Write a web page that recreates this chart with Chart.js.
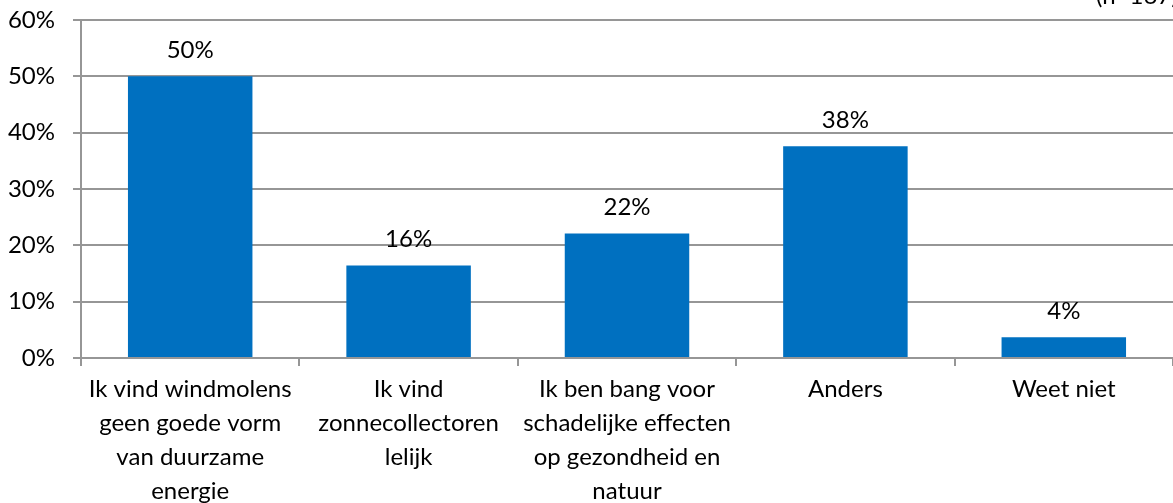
<!DOCTYPE html>
<html>
<head>
<meta charset="utf-8">
<script src="https://cdn.jsdelivr.net/npm/chart.js@4"></script>
<style>
    html, body { margin: 0; padding: 0; background: #fff; }
    #wrap { width: 1173px; height: 503px; position: relative; }
</style>
</head>
<body>
<div id="wrap"><canvas id="chart"></canvas></div>
<script>
// Categories (multi-line labels as in the original)
var categories = [
    ['Ik vind windmolens', 'geen goede vorm', 'van duurzame', 'energie'],
    ['Ik vind', 'zonnecollectoren', 'lelijk'],
    ['Ik ben bang voor', 'schadelijke effecten', 'op gezondheid en', 'natuur'],
    ['Anders'],
    ['Weet niet']
];
// Percentages
var values = [50, 16.4, 22.1, 37.6, 3.7];
var valueLabels = ['50%', '16%', '22%', '38%', '4%'];
var yTicks = [0, 10, 20, 30, 40, 50, 60];
var noteText = '(n=167)';

var fontFamily = 'Lato, "Open Sans", sans-serif';
var gridColor = '#969696';

// Draws the percentage above each bar and the cut-off note top right
var barLabels = {
    id: 'barLabels',
    afterDatasetsDraw: function(chart) {
        var ctx = chart.ctx;
        var meta = chart.getDatasetMeta(0);
        ctx.save();
        ctx.font = '24px ' + fontFamily;
        ctx.fillStyle = '#000';
        ctx.textAlign = 'center';
        ctx.textBaseline = 'middle';
        meta.data.forEach(function(bar, i) {
            ctx.fillText(valueLabels[i], bar.x, bar.y - 26);
        });
        ctx.textAlign = 'left';
        ctx.fillText(noteText, 1096, -4);
        ctx.restore();
    }
};

new Chart(document.getElementById('chart'), {
    type: 'bar',
    data: {
        labels: categories,
        datasets: [{
            data: values,
            backgroundColor: '#0070c0',
            borderWidth: 0,
            categoryPercentage: 1,
            barPercentage: 0.57
        }]
    },
    options: {
        responsive: true,
        maintainAspectRatio: false,
        animation: false,
        layout: { padding: { top: 20, right: 0, left: 0, bottom: 0 } },
        plugins: {
            legend: { display: false },
            tooltip: { enabled: false }
        },
        scales: {
            x: {
                afterFit: function(s) {
                    s.height = 145;
                    s.paddingLeft = 0;
                    s.paddingRight = 0;
                },
                grid: {
                    display: true,
                    drawOnChartArea: false,
                    drawTicks: true,
                    tickLength: 8,
                    color: gridColor,
                    lineWidth: 2
                },
                border: { color: gridColor, width: 2 },
                ticks: {
                    color: '#000',
                    padding: 6,
                    maxRotation: 0,
                    autoSkip: false,
                    font: { family: fontFamily, size: 24, lineHeight: 1.42 }
                }
            },
            y: {
                min: 0,
                max: 60,
                afterFit: function(s) {
                    s.width = 81;
                    s.paddingTop = 0;
                    s.paddingBottom = 0;
                },
                afterBuildTicks: function(s) {
                    s.ticks = yTicks.map(function(v) { return { value: v }; });
                },
                grid: {
                    color: gridColor,
                    lineWidth: 2,
                    tickLength: 8
                },
                border: { color: gridColor, width: 2 },
                ticks: {
                    color: '#000',
                    padding: 18,
                    font: { family: fontFamily, size: 24 },
                    callback: function(v) { return v + '%'; }
                }
            }
        }
    },
    plugins: [barLabels]
});
</script>
</body>
</html>
